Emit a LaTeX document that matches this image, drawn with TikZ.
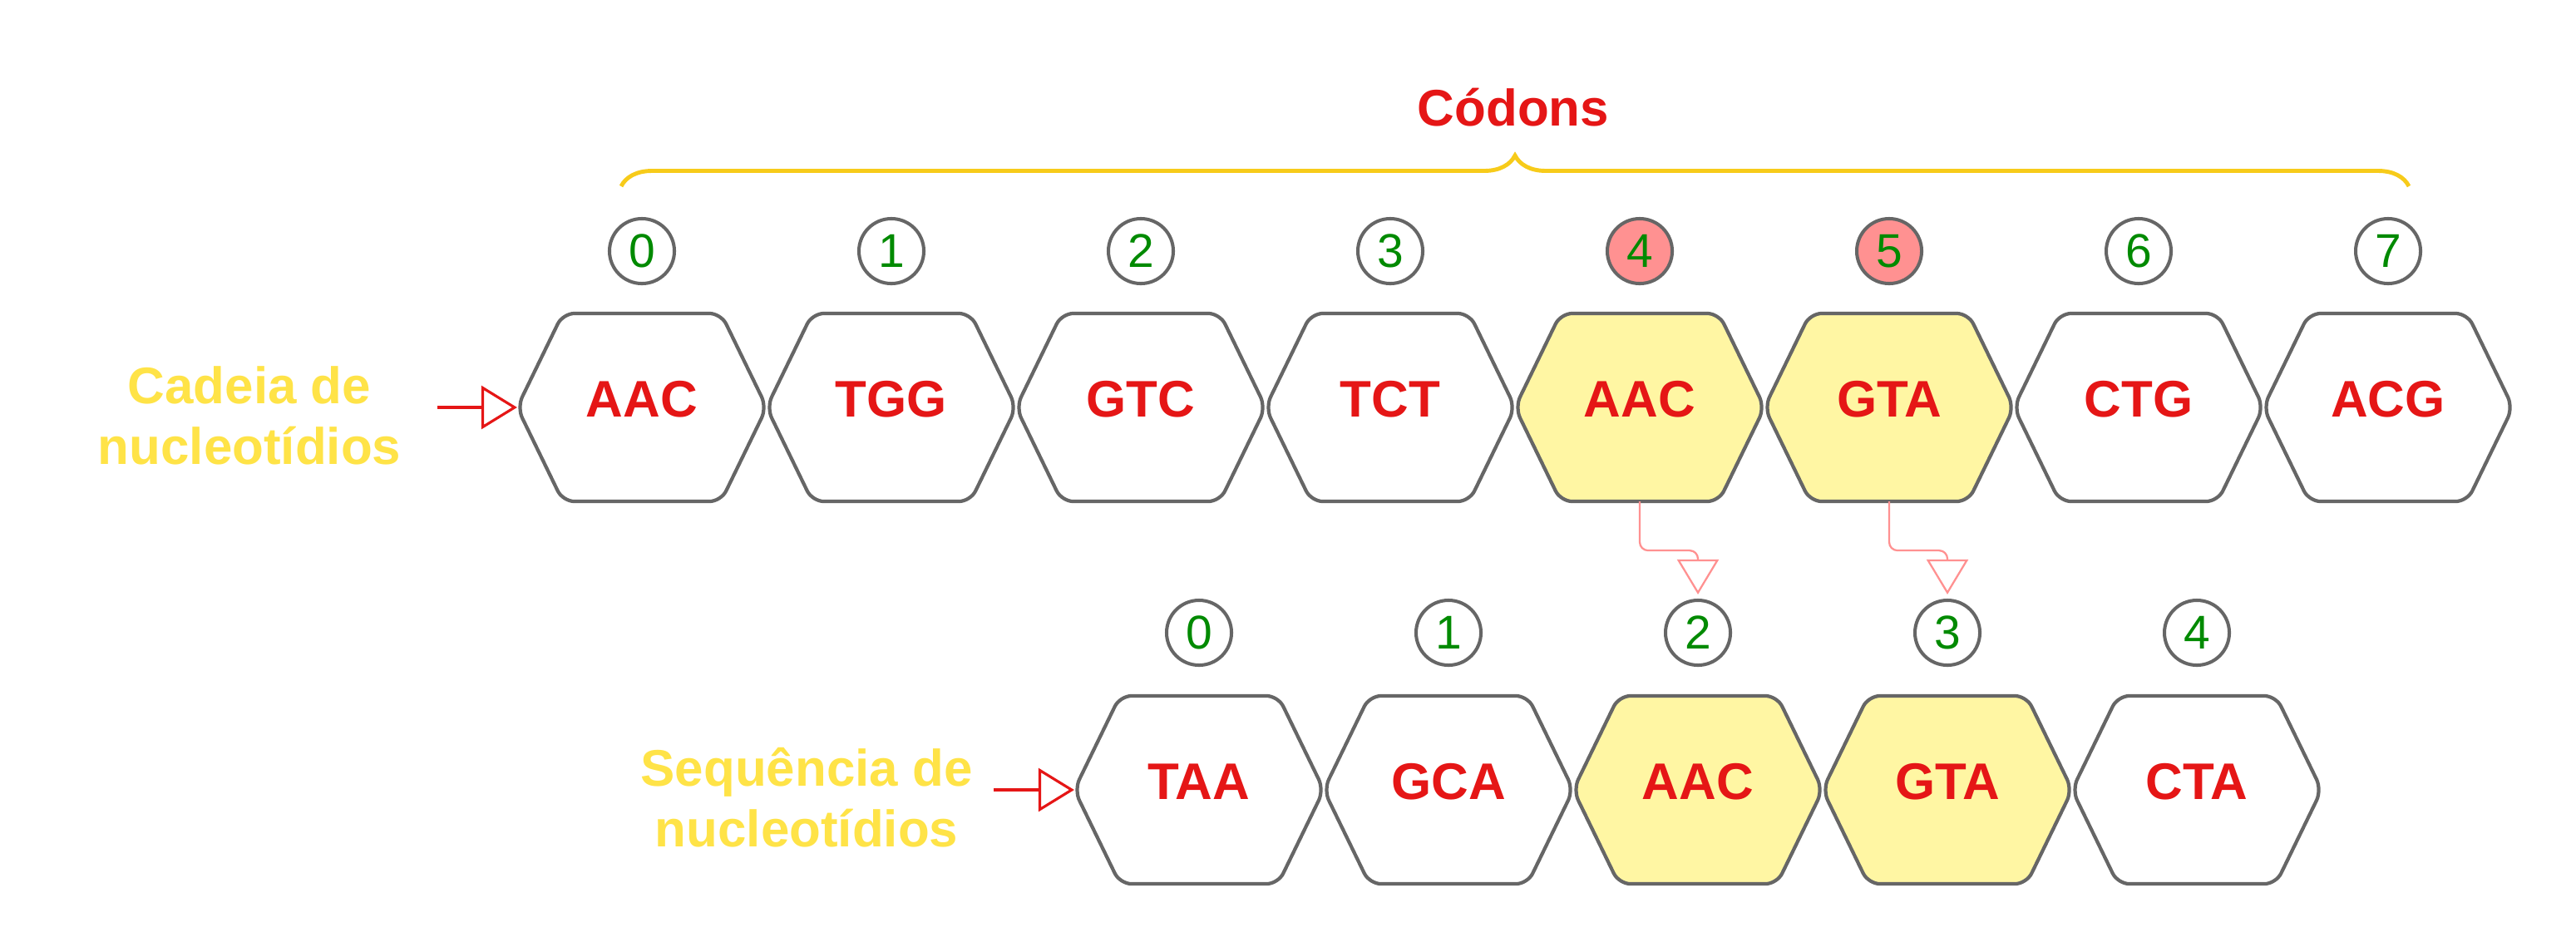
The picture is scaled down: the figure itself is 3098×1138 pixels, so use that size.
\documentclass[tikz,border=0pt]{standalone}
\usepackage{fontspec}
\setmainfont{Liberation Sans}
\usepackage{tikz}
\usetikzlibrary{positioning,arrows.meta,calc,backgrounds,decorations.pathreplacing}
\definecolor{codred}{HTML}{E51616}
\definecolor{idxgreen}{HTML}{008A00}
\definecolor{labelyellow}{HTML}{FFE347}
\definecolor{bracegold}{HTML}{F7CB1A}
\definecolor{edgegray}{HTML}{666666}
\definecolor{hexfill}{HTML}{FFF6A3}
\definecolor{markpink}{HTML}{FF9191}

\tikzset{
  hexnode/.style={minimum width=3cm, minimum height=2.26cm, inner sep=0pt, outer sep=0pt,
    text depth=0.2cm, text=codred, font=\fontsize{17.6}{21}\selectfont\bfseries},
  hexline/.style={draw=edgegray, line width=1.2pt, rounded corners=0.14cm, line join=round},
  idxcircle/.style={circle, draw=edgegray, line width=1.15pt, minimum size=0.78cm, inner sep=0pt,
    text=idxgreen, font=\fontsize{16.2}{19}\selectfont},
  sidelabel/.style={align=center, text=labelyellow, font=\fontsize{17.6}{20.8}\selectfont\bfseries},
  entryarrow/.style={draw=codred, line width=0.9pt, -{Triangle[open, length=0.43cm, width=0.52cm]}},
  maparrow/.style={draw=markpink, line width=0.65pt, rounded corners=0.1cm, shorten >=0.05cm,
    -{Triangle[open, length=0.42cm, width=0.5cm]}}
}

\begin{document}
\begin{tikzpicture}[x=0.01cm, y=-0.01cm]
    \useasboundingbox (0,0) rectangle (3098,1138);

    % top row: codons of the chain
    \foreach \cod/\fil/\cfil [count=\i from 0] in {AAC/white/white, TGG/white/white, GTC/white/white,
        TCT/white/white, AAC/hexfill/markpink, GTA/hexfill/markpink, CTG/white/white, ACG/white/white} {
      \node[hexnode] (cod\i) at ({772+300*\i},490) {\cod};
      \begin{pgfonlayer}{background}
        \draw[hexline, fill=\fil] (cod\i.north) -- ($(cod\i.north east)+(-55,0)$) -- (cod\i.east)
          -- ($(cod\i.south east)+(-55,0)$) -- ($(cod\i.south west)+(55,0)$) -- (cod\i.west)
          -- ($(cod\i.north west)+(55,0)$) -- cycle;
      \end{pgfonlayer}
      \node[idxcircle, fill=\cfil] (pos\i) at ({772+300*\i},302) {\i};
    }

    % bottom row: sequence
    \foreach \cod/\fil [count=\i from 0] in {TAA/white, GCA/white, AAC/hexfill, GTA/hexfill, CTA/white} {
      \node[hexnode] (seq\i) at ({1442+300*\i},950) {\cod};
      \begin{pgfonlayer}{background}
        \draw[hexline, fill=\fil] (seq\i.north) -- ($(seq\i.north east)+(-55,0)$) -- (seq\i.east)
          -- ($(seq\i.south east)+(-55,0)$) -- ($(seq\i.south west)+(55,0)$) -- (seq\i.west)
          -- ($(seq\i.north west)+(55,0)$) -- cycle;
      \end{pgfonlayer}
      \node[idxcircle] (spos\i) at ({1442+300*\i},761) {\i};
    }

    % labels
    \node[font=\fontsize{17.6}{21}\selectfont\bfseries, text=codred, anchor=base] (codons) at (1820,151) {Códons};
    \node[sidelabel] (chainlbl) at (300,500) {Cadeia de\\nucleotídios};
    \node[sidelabel] (seqlbl) at (970,959) {Sequência de\\nucleotídios};

    % brace over the codons
    \coordinate (braceL) at (747,224);
    \coordinate (braceR) at (2897,224);
    \draw[bracegold, line width=1.4pt, decorate, decoration={brace, amplitude=0.37cm}] (braceL) -- (braceR);

    % arrows
    \coordinate (chainin) at (526,490);
    \coordinate (seqin) at (1195,950);
    \draw[entryarrow] (chainin) -- (cod0.west);
    \draw[entryarrow] (seqin) -- (seq0.west);
    \draw[maparrow] (cod4.south) -- ++(0,59) -| (spos2.north);
    \draw[maparrow] (cod5.south) -- ++(0,59) -| (spos3.north);
\end{tikzpicture}
\end{document}
